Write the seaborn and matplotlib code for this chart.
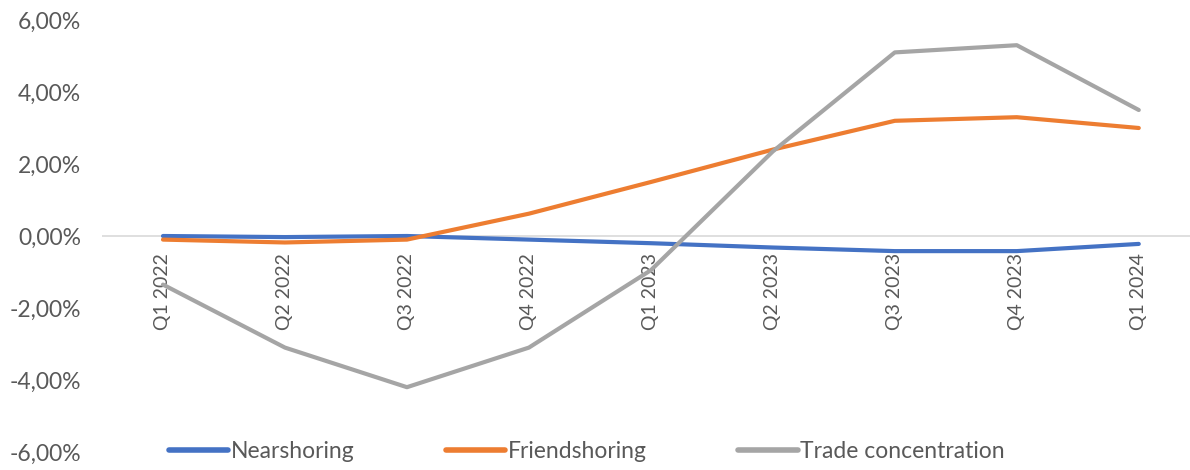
import numpy as np
import pandas as pd
import matplotlib
matplotlib.use("Agg")
import matplotlib.pyplot as plt
from matplotlib.ticker import FuncFormatter, MultipleLocator
import seaborn as sns

# quarters on the category axis
quarters = ["Q1 2022", "Q2 2022", "Q3 2022", "Q4 2022", "Q1 2023",
            "Q2 2023", "Q3 2023", "Q4 2023", "Q1 2024"]

# values in percent
nearshoring = [0.00, -0.03, 0.00, -0.10, -0.20, -0.32, -0.42, -0.42, -0.22]
friendshoring = [-0.10, -0.18, -0.10, 0.62, 1.50, 2.40, 3.20, 3.30, 3.00]
trade_concentration = [-1.35, -3.10, -4.20, -3.10, -0.95, 2.35, 5.10, 5.30, 3.50]

series_names = ["Nearshoring", "Friendshoring", "Trade concentration"]
colors = {"Nearshoring": "#4472C4", "Friendshoring": "#ED7D31",
          "Trade concentration": "#A5A5A5"}

df = pd.DataFrame({
    "quarter": quarters * 3,
    "value": nearshoring + friendshoring + trade_concentration,
    "series": np.repeat(series_names, len(quarters)),
})

sns.set_theme(style="white")
plt.rcParams["font.family"] = ["Lato", "DejaVu Sans"]

fig = plt.figure(figsize=(11.9, 4.7), dpi=100)
ax = fig.add_axes([102 / 1190, 1 - 452 / 470, 1088 / 1190, 432 / 470])

sns.lineplot(data=df, x="quarter", y="value", hue="series", palette=colors,
             linewidth=3, sort=False, ax=ax, legend=False)

ax.set_ylim(-6, 6)
ax.set_xlim(-0.5, 8.42)
ax.yaxis.set_major_locator(MultipleLocator(2))
ax.yaxis.set_major_formatter(FuncFormatter(lambda v, p: f"{v:.2f}%".replace(".", ",")))
ax.axhline(0, color="#d9d9d9", linewidth=1.2, zorder=0)

for s in ["top", "right", "left"]:
    ax.spines[s].set_visible(False)
ax.spines["bottom"].set_position(("data", 0))
ax.spines["bottom"].set_visible(False)

ax.set_xlabel("")
ax.set_ylabel("")
ax.tick_params(axis="x", length=0, pad=12, labelsize=14, labelcolor="#595959")
ax.tick_params(axis="y", length=0, pad=15, labelsize=16.5, labelcolor="#595959")
plt.setp(ax.get_xticklabels(), rotation=90, va="top", ha="center")

handles = [plt.Line2D([], [], color=colors[n], linewidth=4) for n in series_names]
fig.legend(handles, series_names, loc="center", bbox_to_anchor=(0.493, 1 - 452 / 470),
           ncol=3, frameon=False, fontsize=16.5, handlelength=2.6, handletextpad=0.1,
           columnspacing=4.0, labelcolor="#595959")

fig.savefig("out.png", dpi=100)
